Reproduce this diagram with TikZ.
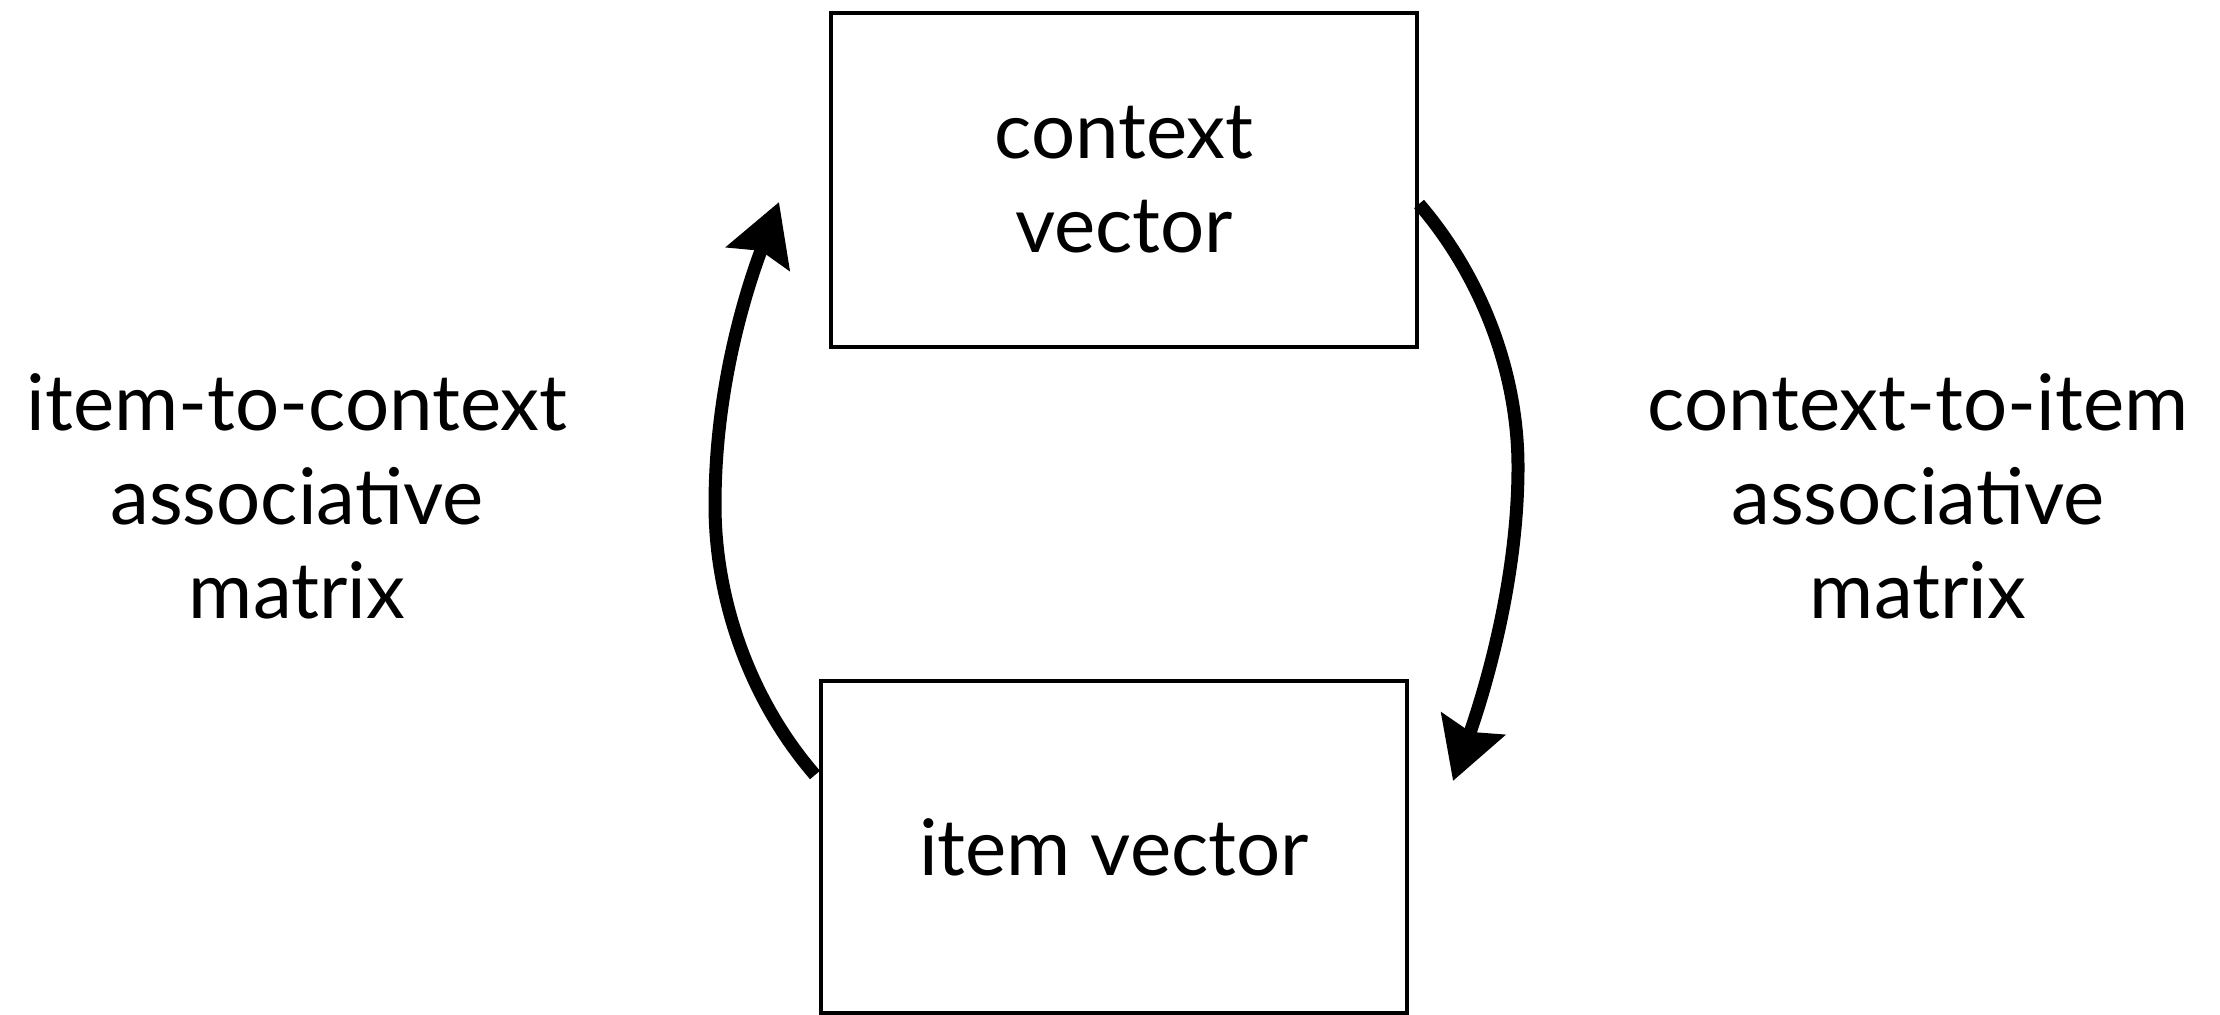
\documentclass[tikz,border=0pt]{standalone}
\usepackage{fontspec}
\setmainfont{Lato}
\usetikzlibrary{arrows.meta}
\begin{document}
\begin{tikzpicture}[x=0.5pt,y=-0.5pt,
  vecbox/.style={draw=black,line width=2pt,minimum width=293pt,minimum height=167pt,inner sep=0pt,align=center,
    font=\fontsize{39}{47}\selectfont},
  lbl/.style={align=center,font=\fontsize{39}{47}\selectfont,inner sep=0pt},
  flow/.style={line width=6.5pt,-{Stealth[length=30pt,width=33pt,inset=4pt]}}]
\useasboundingbox (0,0) rectangle (2220,1015);
\node[vecbox] (ctx) at (1124,180) {context\\vector};
\node[vecbox,minimum height=166pt] (item) at (1114,847) {item vector};
\node[lbl] (l2c) at (297,496) {item-to-context\\associative\\matrix};
\node[lbl] (c2i) at (1918,496) {context-to-item\\associative\\matrix};
\coordinate (ltip) at ([xshift=-25pt,yshift=-11pt]ctx.west);
\coordinate (rtip) at ([xshift=22pt,yshift=33pt]item.east);
\coordinate (lmid) at (715,505);
\coordinate (rmid) at (1518,467);
\draw[flow] ([xshift=-2pt,yshift=36pt]item.west) .. controls (750,700) and (715,600) .. (lmid)
  .. controls (715,380) and (750,280) .. (ltip);
\draw[flow] ([yshift=-12pt]ctx.east) .. controls (1480,275) and (1518,370) .. (rmid)
  .. controls (1518,580) and (1485,690) .. (rtip);
\end{tikzpicture}
\end{document}
